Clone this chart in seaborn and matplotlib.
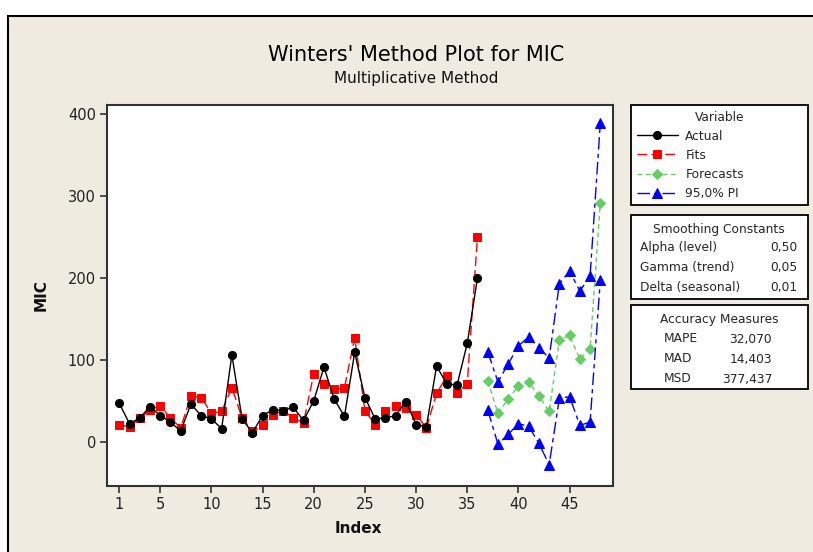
import matplotlib
matplotlib.use('Agg')
import matplotlib.pyplot as plt
import seaborn as sns
from matplotlib.patches import Rectangle

# ---------------- data ----------------
actual = [47, 22, 29, 43, 32, 24, 13, 46, 32, 28, 16, 106, 28, 11, 32, 39, 38, 42,
          26, 50, 91, 52, 31, 109, 54, 28, 29, 32, 49, 21, 18, 92, 71, 69, 120, 200]
fits = [21, 18, 29, 39, 44, 29, 17, 56, 54, 35, 37, 66, 29, 13, 20, 33, 38, 29,
        23, 83, 71, 64, 66, 127, 38, 21, 38, 44, 41, 33, 17, 59, 80, 59, 71, 250]
forecasts = [74, 35, 52, 68, 73, 56, 37, 124, 130, 101, 113, 292]
pi_upper = [110, 73, 95, 117, 128, 115, 102, 193, 208, 184, 202, 389]
pi_lower = [39, -3, 9, 22, 19, -2, -28, 53, 55, 20, 24, 197]
idx_fit = list(range(1, 37))
idx_fc = list(range(37, 49))
xticks = [1, 5, 10, 15, 20, 25, 30, 35, 40, 45]
yticks = [0, 100, 200, 300, 400]
series_labels = ['Actual', 'Fits', 'Forecasts', '95,0% PI']
smooth_names = ['Alpha (level)', 'Gamma (trend)', 'Delta (seasonal)']
smooth_vals = ['0,50', '0,05', '0,01']
acc_names = ['MAPE', 'MAD', 'MSD']
acc_vals = ['32,070', '14,403', '377,437']

# ---------------- style ----------------
sns.set_theme(style='ticks')
plt.rcParams['font.family'] = ['DejaVu Sans']
W, H = 813, 552
bg = '#EFEBE1'
fig = plt.figure(figsize=(W / 100, H / 100), dpi=100, facecolor='white')
fig.patches.append(Rectangle((8 / W, -0.1), 1.2, 1 - 16 / H + 0.1,
                             transform=fig.transFigure, facecolor=bg,
                             edgecolor='black', lw=1.5, zorder=-10))

ax = fig.add_axes([107 / W, 1 - 486 / H, (613 - 107) / W, (486 - 105) / H])
ax.set_facecolor('white')

lw = 1.0
sns.lineplot(x=idx_fit, y=actual, ax=ax, color='black', marker='o', markersize=5.8,
             markeredgecolor='black', lw=lw, label=series_labels[0], zorder=4)
sns.lineplot(x=idx_fit, y=fits, ax=ax, color='red', marker='s', markersize=5.3,
             markeredgecolor='red', lw=lw, linestyle=(0, (7, 3)),
             label=series_labels[1], zorder=3)
sns.lineplot(x=idx_fc, y=forecasts, ax=ax, color='#66CC66', marker='D', markersize=5.3,
             markeredgecolor='#66CC66', lw=lw, linestyle=(0, (3.5, 2.5)),
             label=series_labels[2], zorder=3)
sns.lineplot(x=idx_fc, y=pi_upper, ax=ax, color='blue', marker='^', markersize=6.8,
             markeredgecolor='blue', lw=lw, linestyle=(0, (9, 3, 3, 3)),
             label=series_labels[3], zorder=3)
sns.lineplot(x=idx_fc, y=pi_lower, ax=ax, color='blue', marker='^', markersize=6.8,
             markeredgecolor='blue', lw=lw, linestyle=(0, (9, 3, 3, 3)), zorder=3)

handles, labels = ax.get_legend_handles_labels()
ax.get_legend().remove()

ax.set_xlim(-0.2, 49.24)
ax.set_ylim(-54, 411)
ax.set_xticks(xticks)
ax.set_yticks(yticks)
for s in ax.spines.values():
    s.set_visible(True)
    s.set_color('#333333')
    s.set_linewidth(1.5)
ax.tick_params(direction='out', length=5, width=1.2, color='#333333',
               labelsize=10.5, labelcolor='#222222', pad=3)
ax.grid(False)

ax.set_xlabel('Index', fontweight='bold', fontsize=11, color='#111111')
ax.set_ylabel('MIC', fontweight='bold', fontsize=11, color='#111111')
ax.xaxis.set_label_coords(0.496, -0.092)
ax.yaxis.set_label_coords(-0.115, 0.5)

fig.text(416 / W, 1 - 55 / H, "Winters' Method Plot for MIC", ha='center',
         va='center', fontsize=15, color='black')
fig.text(416 / W, 1 - 78 / H, 'Multiplicative Method', ha='center',
         va='center', fontsize=11, color='#111111')

# ---------------- legend box ----------------
leg = fig.legend(handles, labels, loc='upper left',
                 bbox_to_anchor=(631 / W, 1 - 105 / H, (808 - 631) / W, 0),
                 mode='expand', title='Variable', frameon=True, fancybox=False,
                 edgecolor='black', facecolor='white', framealpha=1,
                 fontsize=8.8, title_fontsize=8.8, handlelength=3.4,
                 handletextpad=0.6, borderaxespad=0, labelspacing=0.5,
                 borderpad=0.45)
leg.get_frame().set_linewidth(1.3)

# ---------------- smoothing / accuracy boxes ----------------
fs = 8.8
def box(y0, y1):
    fig.patches.append(Rectangle((631 / W, 1 - y1 / H), (808 - 631) / W, (y1 - y0) / H,
                                 transform=fig.transFigure, facecolor='white',
                                 edgecolor='black', lw=1.3, zorder=1))

def ftext(x, y, s, ha):
    fig.text(x / W, 1 - y / H, s, ha=ha, va='center', fontsize=fs, zorder=6)

box(215, 299)
ftext(719, 229, 'Smoothing Constants', 'center')
for i, (n, v) in enumerate(zip(smooth_names, smooth_vals)):
    y = 248 + 20 * i
    ftext(640, y, n, 'left')
    ftext(797, y, v, 'right')

box(305, 389)
ftext(719, 320, 'Accuracy Measures', 'center')
for i, (n, v) in enumerate(zip(acc_names, acc_vals)):
    y = 339 + 20 * i
    ftext(664, y, n, 'left')
    ftext(772, y, v, 'right')

fig.savefig('out.png', dpi=100, facecolor=fig.get_facecolor())
